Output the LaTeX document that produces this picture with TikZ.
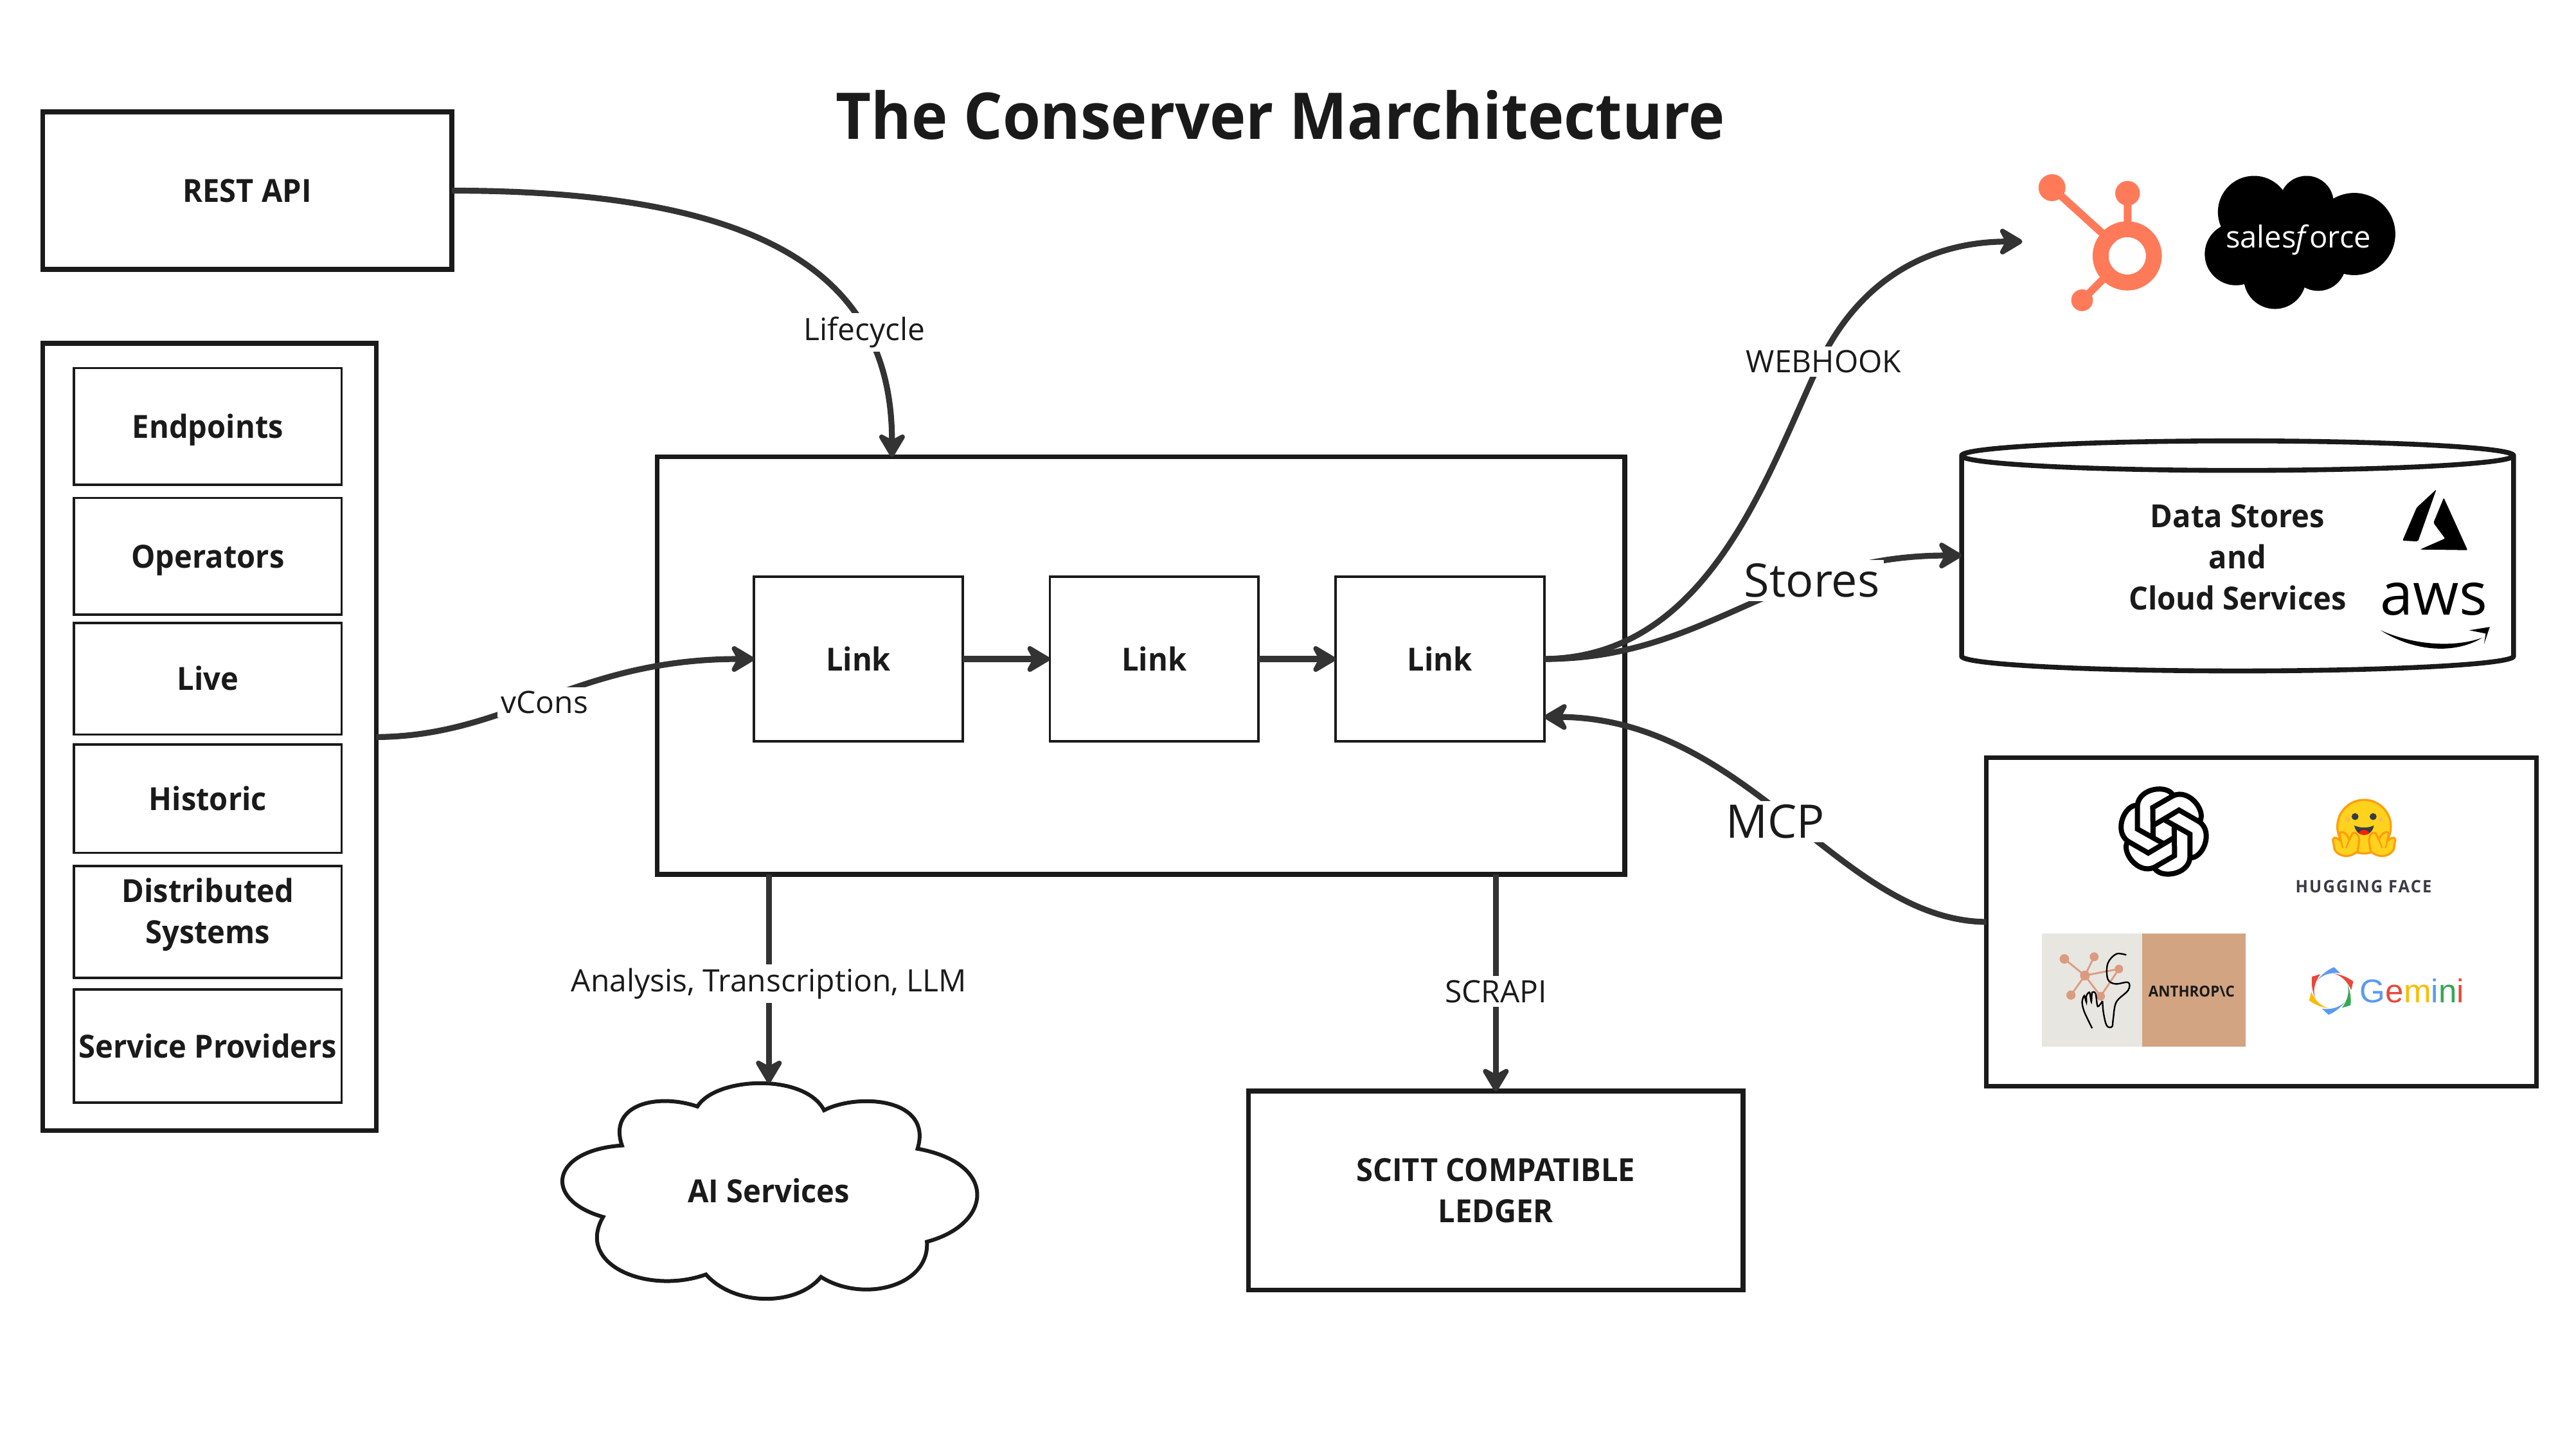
\documentclass[tikz,border=0pt]{standalone}
\usepackage{fontspec}
\setmainfont{Open Sans}[BoldFeatures={FakeStretch=0.95}]
\newfontfamily\geminifont{Liberation Sans}
\usetikzlibrary{arrows.meta,shapes.geometric}
\definecolor{ink}{HTML}{1A1A1A}
\definecolor{wire}{HTML}{333333}
\definecolor{hubcolor}{HTML}{FF7A59}
\definecolor{gemblue}{HTML}{5A9BEF}
\definecolor{gemred}{HTML}{E64A3B}
\definecolor{gemgreen}{HTML}{34A853}
\definecolor{gemyellow}{HTML}{FBBC05}
\definecolor{hugface}{HTML}{FFD21E}
\definecolor{hugline}{HTML}{FF9D0B}
\definecolor{hugdark}{HTML}{3A3B45}
\definecolor{antlight}{HTML}{E8E6E1}
\definecolor{anttan}{HTML}{D2A482}
\definecolor{antdot}{HTML}{DB9B80}
\begin{document}
\begin{tikzpicture}[x=0.64pt,y=-0.64pt,>={Stealth[length=11pt,width=13pt,inset=3.5pt,round]},
  every node/.style={inner sep=0pt,outer sep=0pt,align=center,text=ink},
  sized/.style 2 args={minimum width=#1*0.64pt,minimum height=#2*0.64pt},
  boldtext/.style={font=\fontsize{12.4}{16}\selectfont\bfseries},
  oneline/.style={text height=11pt,text depth=1.9pt},
  heavybox/.style={draw=ink,line width=1.9pt,boldtext},
  thinbox/.style={draw=ink,line width=0.9pt,boldtext},
  wireline/.style={draw=wire,line width=2.3pt,->},
  smalllabel/.style={fill=white,inner sep=1.5pt,font=\fontsize{12}{16}\selectfont},
  biglabel/.style={fill=white,inner sep=1.5pt,font=\fontsize{18}{22}\selectfont}]
\useasboundingbox (0,0) rectangle (1568,878.3);

\node (title) at (779.5,70) {\fontsize{25.1}{30}\selectfont\bfseries The Conserver Marchitecture};

\node[heavybox,sized={249}{96}] (rest) at (150.5,116) {REST API};
\node[heavybox,sized={203}{479}] (sources) at (127.5,448.5) {};
\node[thinbox,oneline,sized={163}{71}] (endpoints) at (126.5,259.5) {Endpoints};
\node[thinbox,oneline,sized={163}{71}] (operators) at (126.5,338.5) {Operators};
\node[thinbox,oneline,sized={163}{68}] (live) at (126.5,413) {Live};
\node[thinbox,oneline,sized={163}{66}] (historic) at (126.5,486) {Historic};
\node[thinbox,text depth=8.5pt,sized={163}{68}] (distributed) at (126.5,561) {Distributed\\Systems};
\node[thinbox,oneline,sized={163}{69}] (providers) at (126.5,636.5) {Service Providers};

\node[heavybox,sized={589}{254}] (main) at (694.5,405) {};
\node[thinbox,oneline,sized={127}{100}] (link1) at (522.5,401) {Link};
\node[thinbox,oneline,sized={127}{100}] (link2) at (702.5,401) {Link};
\node[thinbox,oneline,sized={127}{100}] (link3) at (876.5,401) {Link};

\node[heavybox,sized={301}{121}] (ledger) at (910.5,724.5) {SCITT COMPATIBLE\\LEDGER};
\node[heavybox,sized={335}{200}] (aibox) at (1376.5,561) {};
\node[draw=ink,line width=1.9pt,cylinder,shape border rotate=90,aspect=.136,sized={336}{140},boldtext,text depth=5.8pt] (stores) at (1362,343.5) {Data Stores\\and\\Cloud Services};

\draw[draw=ink,line width=1.5pt,fill=white] (424.5,673.3) .. controls (436,655) and (490,653) .. (501.6,675.6)
  .. controls (522,665) and (568,668) .. (558.5,699)
  .. controls (608,708) and (604,745) .. (564.2,755.6)
  .. controls (566,783) and (525,793) .. (499.7,777)
  .. controls (485,795) and (447,795) .. (429.7,775.5)
  .. controls (395,788) and (350,770) .. (367.1,740.5)
  .. controls (330,730) and (335,700) .. (378.6,697)
  .. controls (370,672) and (400,665) .. (424.5,673.3) -- cycle;
\node[boldtext,sized={252}{131}] (cloud) at (468,724.5) {AI Services};

\coordinate (hubin) at (1231,147);
\draw[wireline] (rest.east) .. controls (470,116) and (543,170) .. node[smalllabel,pos=.73] (lifecycle) {Lifecycle} ([xshift=-97pt]main.north);
\draw[wireline] (sources.east) .. controls (310,448) and (350,401) .. node[smalllabel,pos=.49,yshift=-1.3pt] (vcons) {vCons} (link1.west);
\draw[wireline] (link1.east) -- (link2.west);
\draw[wireline] (link2.east) -- (link3.west);
\draw[wireline] (link3.east) .. controls (1040,400) and (1075,290) .. node[smalllabel,pos=1,xshift=1.3pt] (webhook) {WEBHOOK} (1108,220) .. controls (1135,165) and (1180,147) .. (hubin);
\draw[wireline] (link3.east) .. controls (1040,401) and (1080,338) .. node[biglabel,pos=.68] (storeslabel) {Stores} ([yshift=3.5pt]stores.west);
\draw[wireline] (aibox.west) .. controls (1120,560) and (1065,437) .. node[biglabel,pos=.53,yshift=-4.5pt] (mcp) {MCP} (link3.-29.5);
\draw[wireline] (cloud.north |- main.south) -- node[smalllabel,pos=.525] (analysis) {Analysis, Transcription, LLM} (cloud.north);
\draw[wireline] (ledger.north |- main.south) -- node[smalllabel,pos=.54] (scrapi) {SCRAPI} (ledger.north);

% hubspot
\begin{scope}[xshift=1.3pt]
\draw[hubcolor,line width=6.2pt] (1292.8,155.7) circle [radius=16.2];
\draw[hubcolor,line width=3pt] (1247,114.2) -- (1292.8,155.7) (1293,117.6) -- (1293,140) (1265.3,182.7) -- (1280,168);
\fill[hubcolor] (1247,114.2) circle [radius=8.2] (1293,117.6) circle [radius=7.5] (1265.3,182.7) circle [radius=6.6];
\fill[white] (1292.8,155.7) circle [radius=11.2];
\end{scope}

% salesforce
\fill[black] (1372,129) circle [radius=22] (1404,123.5) circle [radius=16.5] (1433,142.4) circle [radius=25] (1361,154.6) circle [radius=19] (1384.7,169) circle [radius=19] (1411,160) circle [radius=17] (1395,145) circle [radius=25];
\node[text=white] (salesforce) at (1399,146) {\fontsize{11.8}{15}\selectfont sales\textit{f}orce};

% azure and aws
\begin{scope}[yshift=1.3pt]
\fill[black,rounded corners=0.5pt] (1483,299.8) -- (1471,310.9) -- (1462.4,331) -- (1471.8,331.5) -- cycle;
\fill[black,rounded corners=0.5pt] (1487.5,304.9) -- (1481.2,320.2) -- (1488.3,329.7) -- (1473,336.4) -- (1502,336.8) -- cycle;
\end{scope}
\node[text=black] (aws) at (1481.5,364.5) {\fontsize{23}{26}\selectfont aws};
\fill[black] (1449,383.5) .. controls (1470,397) and (1495,398) .. (1511,388) .. controls (1495,394) and (1470,393) .. (1449,383.5) -- cycle;
\fill[black] (1503,383.5) -- (1515.5,381.5) -- (1512,392) -- (1513,385.5) -- cycle;

% openai
\foreach \a in {0,-60,...,-300}
  \draw[black,line width=2pt,line join=miter,shift={(1317,506)},rotate=\a] (0.26,7.54) -- (-16,-1.56) -- (-16,-15.9) .. controls (-15,-26.7) and (2.6,-28.9) .. (5.8,-21.8);

% hugging face
\begin{scope}[shift={(1439,503)}]
  \filldraw[fill=hugface,draw=hugline,line width=0.8pt] (0,0) circle [radius=16.3];
  \fill[hugdark] (-5.5,-6.1) circle [radius=2.1] (5.5,-6.1) circle [radius=2.1];
  \fill[hugline!70] (-10.2,-4.3) circle [radius=1.4] (10.2,-4.3) circle [radius=1.4];
  \fill[hugdark] (-6,-0.7) .. controls (-4.5,7) and (4.5,7) .. (6,-0.7) .. controls (2,1) and (-2,1) .. (-6,-0.7) -- cycle;
  \fill[red!75!orange] (-3.2,3.6) .. controls (-1.5,1.5) and (1.5,1.5) .. (3.2,3.6) .. controls (1.5,5.6) and (-1.5,5.6) .. (-3.2,3.6) -- cycle;
  \foreach \s in {-1,1} {
    \begin{scope}[xscale=\s]
      \filldraw[fill=hugface,draw=hugline,line width=0.8pt,line join=round] (4,15) .. controls (8,19) and (15,19) .. (18,14) -- (19,8) .. controls (18,5) and (15,8) .. (14,9) -- (15,4) .. controls (13,2) and (10,5) .. (9,8) -- (7,4) .. controls (4,3) and (3,6) .. (3,9) -- cycle;
      \draw[hugline,line width=0.6pt] (9,8) -- (11,13) (14,9) -- (13,13);
    \end{scope}
  }
\end{scope}
\node[text=hugdark] (hugname) at (1438.7,539.5) {\fontsize{6.7}{8}\selectfont\bfseries\addfontfeatures{LetterSpace=8}HUGGING FACE};

% anthropic
\fill[antlight] (1243,568.1) rectangle (1304,637);
\fill[anttan] (1304,568.1) rectangle (1367,637);
\begin{scope}[xshift=1pt]
\draw[antdot,line width=0.7pt] (1255,583.5) -- (1267.5,593.6) -- (1273.1,582.2) (1267.5,593.6) -- (1288.2,589.6) -- (1277.1,606.2) -- (1267.5,593.6) -- (1259,605.5);
\fill[antdot] (1255,583.5) circle [radius=2.9] (1273.1,582.2) circle [radius=2.7] (1288.2,589.6) circle [radius=2.6] (1267.5,593.6) circle [radius=3] (1259,605.5) circle [radius=2.8] (1277.1,606.2) circle [radius=2.6];
\draw[black,line width=0.6pt] plot[smooth,tension=.6] coordinates {(1292.7,581.1) (1286.6,580.5) (1281.4,586.3) (1281.4,595.7) (1286,598.7) (1293.8,597.8) (1293.8,602.6) (1286.6,609.8) (1284.7,620.2) (1284,624.7) (1280.8,624.1) (1278.8,616.3) (1278.2,609.1)};
\draw[black,line width=0.6pt] plot[smooth,tension=.5] coordinates {(1278.2,609.1) (1275.3,612.4) (1274,604.6) (1271.9,603.9) (1271.4,609.5) (1270.3,603.9) (1268.4,605.9) (1268.4,609.8) (1267.1,605.9) (1265.8,609.8) (1267.1,615.6) (1271.9,625.7)};
\end{scope}
\node[text=ink] (anthropic) at (1334,603.2) {\fontsize{5.9}{7}\selectfont\bfseries ANTHROP\textbackslash C};

% gemini
\foreach \a/\c in {0/gemblue,-60/gemred,-120/gemgreen,180/gemblue,120/gemyellow,60/gemred}
  \fill[\c,shift={(1419,603)},rotate=\a] (-8.7,-6.2) .. controls (-6,-10) and (-2,-13) .. (1.7,-14.5) -- (5.6,-10.8) .. controls (0,-11.5) and (-5.5,-10) .. (-8.7,-6.2) -- cycle;
\node[anchor=base west] (geminitext) at (1436.5,610) {\geminifont\fontsize{12.8}{15}\selectfont\textcolor{gemblue}{G}\textcolor{gemred}{e}\textcolor{gemyellow}{m}\textcolor{gemblue}{i}\textcolor{gemgreen}{n}\textcolor{gemred}{i}};
\end{tikzpicture}
\end{document}
